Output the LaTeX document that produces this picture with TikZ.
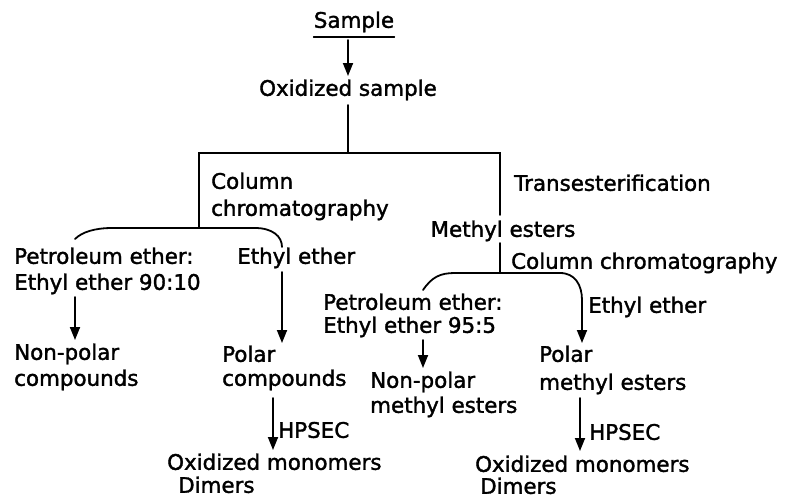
\documentclass[tikz,border=0pt]{standalone}
\usepackage{fontspec}
\setmainfont{DejaVu Sans}
\newfontfamily\thickfont{DejaVu Sans}[FakeBold=1.6]
\usetikzlibrary{arrows.meta}
\begin{document}
\begin{tikzpicture}[x=1pt,y=-1pt,
  lbl/.style={inner sep=0pt, text height=15.6pt, text depth=0pt, anchor=west,
    font=\thickfont\fontsize{21.4}{25}\selectfont},
  lblc/.style={lbl, anchor=center},
  conn/.style={line width=1.8pt, line cap=round},
  arr/.style={conn, -{Triangle[length=13pt,width=10pt]}}]
\useasboundingbox (0,0) rectangle (785,498);
% nodes
\node[lblc] (samp) at (354,20) {Sample};
\node[lblc] (ox) at (348,88) {Oxidized sample};
\node[lbl] (cc1a) at (211,181) {Column};
\node[lbl] (cc1b) at (211,208) {chromatography};
\node[lbl] (tr) at (514,183) {Transesterification};
\node[lblc] (me) at (503,229) {Methyl esters};
\node[lbl] (cc2) at (511,261) {Column chromatography};
\node[lbl] (pe1a) at (14,256) {Petroleum ether:};
\node[lbl] (pe1b) at (14,282) {Ethyl ether 90:10};
\node[lbl] (ee1) at (237,256) {Ethyl ether};
\node[lbl] (np1a) at (14,352) {Non-polar};
\node[lbl] (np1b) at (14,378) {compounds};
\node[lbl] (po1a) at (222,354) {Polar};
\node[lbl] (po1b) at (222,378) {compounds};
\node[lbl] (hp1) at (278,430) {HPSEC};
\node[lbl] (om1a) at (167,462) {Oxidized monomers};
\node[lbl] (om1b) at (178,485) {Dimers};
\node[lbl] (pe2a) at (323,302) {Petroleum ether:};
\node[lbl] (pe2b) at (323,325) {Ethyl ether 95:5};
\node[lbl] (ee2) at (588,305) {Ethyl ether};
\node[lbl] (np2a) at (370,380) {Non-polar};
\node[lbl] (np2b) at (370,405) {methyl esters};
\node[lbl] (po2a) at (539,354) {Polar};
\node[lbl] (po2b) at (539,382) {methyl esters};
\node[lbl] (hp2) at (589,432) {HPSEC};
\node[lbl] (om2a) at (475,464) {Oxidized monomers};
\node[lbl] (om2b) at (480,486) {Dimers};
% junction coordinates
\coordinate (x0) at (348,0);
\coordinate (jL) at (199,153);
\coordinate (j0) at (348,153);
\coordinate (jR) at (500,153);
\coordinate (kL) at (199,228);
\coordinate (kR) at (500,273);
\coordinate (a1) at (75,0);
\coordinate (a2) at (282,0);
\coordinate (a3) at (423,0);
\coordinate (a4) at (582,0);
\coordinate (a5) at (273,0);
\coordinate (a6) at (580,0);
% underline of Sample
\draw[conn] ([yshift=-9pt]samp.south west) -- ([yshift=-9pt]samp.south east);
% Sample -> Oxidized sample
\draw[arr, shorten <=12pt, shorten >=4pt] (samp.south -| x0) -- (ox.north -| x0);
% Oxidized sample -> split
\draw[conn, shorten <=9pt] (ox.south -| x0) -- (j0);
\draw[conn] (kL) -- (jL) -- (jR) -- ([yshift=6pt]me.north -| jR);
\draw[conn] ([yshift=-6pt]me.south -| jR) -- (kR);
% first column chromatography split
\draw[conn] ([yshift=9pt]pe1a.north -| a1) .. controls (82,232) and (95,228) .. (112,228)
  -- (255,228) .. controls (272,228) and (282,236) .. ([yshift=1pt]ee1.north -| a2);
\draw[arr, shorten <=7pt, shorten >=4pt] (pe1b.south -| a1) -- (np1a.north -| a1);
\draw[arr, shorten <=8pt, shorten >=3pt] (ee1.south -| a2) -- (po1a.north -| a2);
\draw[arr, shorten <=12pt, shorten >=4pt] (po1b.south -| a5) -- (om1a.north -| a5);
% second column chromatography split
\draw[conn] ([yshift=4pt]pe2a.north -| a3) .. controls (432,277) and (440,273) .. (455,273)
  -- (560,273) .. controls (575,273) and (582,285) .. (582,300);
\draw[arr] (582,299) -- ([yshift=3pt]po2a.north -| a4);
\draw[arr, shorten <=7pt, shorten >=4pt] (pe2b.south -| a3) -- (np2a.north -| a3);
\draw[arr, shorten <=8pt, shorten >=5pt] (po2b.south -| a6) -- (om2a.north -| a6);
\end{tikzpicture}
\end{document}
